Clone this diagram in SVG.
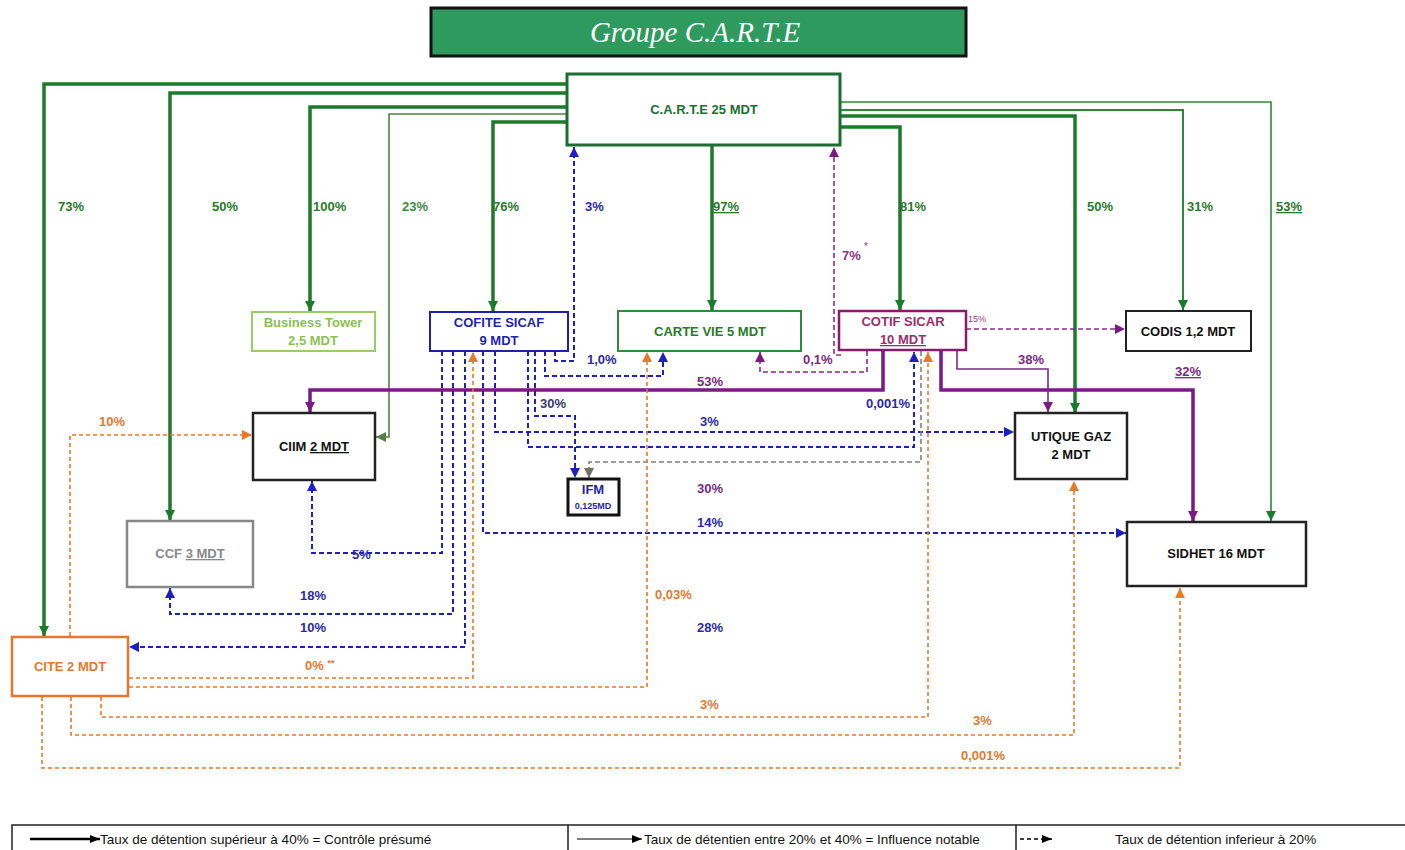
<svg xmlns="http://www.w3.org/2000/svg" width="1405" height="850" viewBox="0 0 1405 850">
<style>
text{font-family:"Liberation Sans",Arial,sans-serif}
.b{font-weight:bold}
.nt{font-size:13px;font-weight:bold;text-anchor:middle}
.lb{font-size:13px;font-weight:bold}
.u{text-decoration:underline}
.box{fill:#fff}
.g3{stroke:#1b7a2b;stroke-width:3.5;fill:none}
.g2{stroke:#2a8a35;stroke-width:2;fill:none}
.g1{stroke:#2a8a35;stroke-width:1.6;fill:none}
.ol{stroke:#557f42;stroke-width:1.6;fill:none}
.p3{stroke:#7a1a85;stroke-width:3.5;fill:none}
.p1{stroke:#7a2a85;stroke-width:1.6;fill:none}
.pd{stroke:#8a2a8a;stroke-width:1.6;stroke-dasharray:5,3;fill:none}
.bd{stroke:#1f1fc0;stroke-width:2;stroke-dasharray:5,3;fill:none}
.od{stroke:#e8782a;stroke-width:1.6;stroke-dasharray:4,3;fill:none}
.gd{stroke:#808080;stroke-width:1.6;stroke-dasharray:5,3;fill:none}
.cg{fill:#2a7a2a}.cb{fill:#2a2aa8}.cp{fill:#7a2a80}.co{fill:#e07a30}
.lg{font-size:13.5px;fill:#111}
</style>
<defs>
<marker id="ag" markerUnits="userSpaceOnUse" markerWidth="12" markerHeight="10" refX="10" refY="5" orient="auto"><path d="M0,0 L10,5 L0,10 z" fill="#1b7a2b"/></marker>
<marker id="ao" markerUnits="userSpaceOnUse" markerWidth="12" markerHeight="10" refX="10" refY="5" orient="auto"><path d="M0,0 L10,5 L0,10 z" fill="#557f42"/></marker>
<marker id="ap" markerUnits="userSpaceOnUse" markerWidth="12" markerHeight="10" refX="10" refY="5" orient="auto"><path d="M0,0 L10,5 L0,10 z" fill="#7a1a85"/></marker>
<marker id="ab" markerUnits="userSpaceOnUse" markerWidth="12" markerHeight="10" refX="10" refY="5" orient="auto"><path d="M0,0 L10,5 L0,10 z" fill="#1f1fc0"/></marker>
<marker id="aor" markerUnits="userSpaceOnUse" markerWidth="12" markerHeight="10" refX="10" refY="5" orient="auto"><path d="M0,0 L10,5 L0,10 z" fill="#e8782a"/></marker>
<marker id="agr" markerUnits="userSpaceOnUse" markerWidth="12" markerHeight="10" refX="10" refY="5" orient="auto"><path d="M0,0 L10,5 L0,10 z" fill="#707070"/></marker>
<marker id="ak" markerUnits="userSpaceOnUse" markerWidth="12" markerHeight="10" refX="10" refY="4" orient="auto"><path d="M0,0 L10,4 L0,8 z" fill="#000"/></marker>
</defs>
<rect width="1405" height="850" fill="#fff"/>
<g id="title">
<rect x="431" y="8" width="535" height="48" fill="#2e9a5e" stroke="#111" stroke-width="3"/>
<text x="695" y="42" style="font-family:'Liberation Serif',serif" font-style="italic" font-size="29" fill="#fff" text-anchor="middle">Groupe C.A.R.T.E</text>
</g>
<g id="connectors">
<path class="g3" marker-end="url(#ag)" d="M567,84 H44 V636"/>
<path class="g3" marker-end="url(#ag)" d="M567,93 H170 V520"/>
<path class="g3" marker-end="url(#ag)" d="M567,107 H310 V311"/>
<path class="g3" marker-end="url(#ag)" d="M567,122 H493 V311"/>
<path class="ol" marker-end="url(#ao)" d="M567,114 H389 V437 H376"/>
<path class="g3" marker-end="url(#ag)" d="M712,146 V310"/>
<path class="g3" marker-end="url(#ag)" d="M840,127 H900 V310"/>
<path class="g3" marker-end="url(#ag)" d="M840,116 H1075 V413"/>
<path class="g2" marker-end="url(#ag)" d="M840,110 H1183 V310"/>
<path class="g1" marker-end="url(#ag)" d="M840,102 H1271 V521"/>
<path class="p3" marker-end="url(#ap)" d="M883,351 V390 H310 V412"/>
<path class="p3" marker-end="url(#ap)" d="M941,351 V390 H1193 V521"/>
<path class="p1" marker-end="url(#ap)" d="M957,351 V369 H1048 V412"/>
<path class="pd" marker-end="url(#ap)" d="M966,329 H1125"/>
<path class="pd" marker-end="url(#ap)" d="M867,351 V372 H760 V352"/>
<path class="pd" marker-end="url(#ap)" d="M841,355 H834 V147"/>
<path class="bd" marker-end="url(#ab)" d="M555,351 V361 H574 V147"/>
<path class="bd" marker-end="url(#ab)" d="M545,351 V376 H663 V352"/>
<path class="bd" marker-end="url(#ab)" d="M442,351 V553 H312 V481"/>
<path class="bd" marker-end="url(#ab)" d="M453,351 V614 H170 V588"/>
<path class="bd" marker-end="url(#ab)" d="M465,351 V647 H129"/>
<path class="bd" marker-end="url(#ab)" d="M483,351 V533 H1126"/>
<path class="bd" marker-end="url(#ab)" d="M495,351 V432 H1014"/>
<path class="bd" marker-end="url(#ab)" d="M528,351 V447 H914 V352"/>
<path class="bd" marker-end="url(#ab)" d="M535,351 V416 H575 V478"/>
<path class="gd" marker-end="url(#agr)" d="M921,351 V462 H589 V478"/>
<path class="od" marker-end="url(#aor)" d="M70,636 V435 H252"/>
<path class="od" marker-end="url(#aor)" d="M129,678 H473 V352"/>
<path class="od" marker-end="url(#aor)" d="M129,687 H647 V352"/>
<path class="od" marker-end="url(#aor)" d="M101,697 V717 H928 V352"/>
<path class="od" marker-end="url(#aor)" d="M71,697 V735 H1074 V481"/>
<path class="od" marker-end="url(#aor)" d="M42,697 V768 H1180 V588"/>
</g>
<g id="labels">
<text class="lb cg" x="58" y="211">73%</text>
<text class="lb cg" x="212" y="211">50%</text>
<text class="lb cg" x="313" y="211">100%</text>
<text class="lb" x="402" y="211" fill="#3f8a3f">23%</text>
<text class="lb cg" x="493" y="211">76%</text>
<text class="lb cb" x="585" y="211">3%</text>
<text class="lb cg u" x="713" y="211">97%</text>
<text class="lb" x="842" y="260" fill="#8a3a7a">7%</text>
<text x="864" y="250" font-size="10" fill="#8a3a7a">*</text>
<text class="lb cg" x="900" y="211">81%</text>
<text class="lb cg" x="1087" y="211">50%</text>
<text class="lb cg" x="1187" y="211">31%</text>
<text class="lb cg u" x="1276" y="211">53%</text>
<text x="968" y="322" font-size="9" fill="#8a3a7a">15%</text>
<text class="lb cb" x="587" y="364">1,0%</text>
<text class="lb cp" x="803" y="364">0,1%</text>
<text class="lb cp" x="697" y="386">53%</text>
<text class="lb cp" x="1018" y="364">38%</text>
<text class="lb cp u" x="1175" y="376">32%</text>
<text class="lb co" x="99" y="426">10%</text>
<text class="lb" x="540" y="408" fill="#3a3a70">30%</text>
<text class="lb cb" x="866" y="408">0,001%</text>
<text class="lb cb" x="700" y="426">3%</text>
<text class="lb cp" x="697" y="493">30%</text>
<text class="lb cb" x="697" y="527">14%</text>
<text class="lb cb" x="352" y="559">5%</text>
<text class="lb cb" x="300" y="600">18%</text>
<text class="lb co" x="655" y="599">0,03%</text>
<text class="lb cb" x="300" y="632">10%</text>
<text class="lb cb" x="697" y="632">28%</text>
<text class="lb co" x="305" y="670">0% <tspan font-size="9" dy="-4">**</tspan></text>
<text class="lb co" x="700" y="709">3%</text>
<text class="lb co" x="973" y="725">3%</text>
<text class="lb co" x="961" y="760">0,001%</text>
</g>
<g id="n-carte"><rect class="box" x="567" y="74" width="273" height="71" stroke="#1b6e30" stroke-width="3"/><text class="nt" x="704" y="114" fill="#1b6e30">C.A.R.T.E 25 MDT</text></g>
<g id="n-business"><rect class="box" x="252" y="312" width="123" height="39" stroke="#9ccc65" stroke-width="2"/><text class="nt" x="313" y="327" fill="#8cc152">Business Tower</text><text class="nt" x="313" y="345" fill="#8cc152">2,5 MDT</text></g>
<g id="n-cofite"><rect class="box" x="430" y="312" width="138" height="39" stroke="#1f1fb0" stroke-width="2"/><text class="nt" x="499" y="327" fill="#1f1fb0">COFITE SICAF</text><text class="nt" x="499" y="345" fill="#1f1fb0">9 MDT</text></g>
<g id="n-cartevie"><rect class="box" x="618" y="311" width="183" height="40" stroke="#2e8b3a" stroke-width="2"/><text class="nt" x="710" y="336" fill="#2a7a2a">CARTE VIE 5 MDT</text></g>
<g id="n-cotif"><rect class="box" x="839" y="311" width="127" height="39" stroke="#8a1a6e" stroke-width="2.5"/><text class="nt" x="903" y="326" fill="#9b2f6b">COTIF SICAR</text><text class="nt u" x="903" y="344" fill="#9b2f6b">10 MDT</text></g>
<g id="n-codis"><rect class="box" x="1126" y="311" width="125" height="40" stroke="#222" stroke-width="2"/><text class="nt" x="1188" y="336" fill="#111">CODIS 1,2 MDT</text></g>
<g id="n-ciim"><rect class="box" x="253" y="413" width="122" height="67" stroke="#222" stroke-width="2.5"/><text class="nt" x="314" y="451" fill="#111">CIIM <tspan class="u">2 MDT</tspan></text></g>
<g id="n-ifm"><rect class="box" x="568" y="479" width="51" height="36" stroke="#111" stroke-width="3"/><text class="nt" x="593" y="494" fill="#1f1fb0">IFM</text><text x="593" y="509" font-size="9" font-weight="bold" text-anchor="middle" fill="#1f1fb0">0,125MD</text></g>
<g id="n-utique"><rect class="box" x="1015" y="413" width="112" height="66" stroke="#222" stroke-width="2.5"/><text class="nt" x="1071" y="441" fill="#111">UTIQUE GAZ</text><text class="nt" x="1071" y="459" fill="#111">2 MDT</text></g>
<g id="n-ccf"><rect class="box" x="127" y="521" width="126" height="66" stroke="#888" stroke-width="2.5"/><text class="nt" x="190" y="558" fill="#888">CCF <tspan class="u">3 MDT</tspan></text></g>
<g id="n-sidhet"><rect class="box" x="1127" y="522" width="179" height="64" stroke="#222" stroke-width="2.5"/><text class="nt" x="1216" y="558" fill="#111">SIDHET 16 MDT</text></g>
<g id="n-cite"><rect class="box" x="12" y="637" width="116" height="59" stroke="#e8762a" stroke-width="2.5"/><text class="nt" x="70" y="671" fill="#e07a30">CITE 2 MDT</text></g>
<g id="legend">
<rect x="12" y="825" width="1400" height="30" fill="#fff" stroke="#222" stroke-width="1.5"/>
<line x1="568" y1="825" x2="568" y2="850" stroke="#222" stroke-width="1.5"/>
<line x1="1016" y1="825" x2="1016" y2="850" stroke="#222" stroke-width="1.5"/>
<line x1="30" y1="839" x2="100" y2="839" stroke="#000" stroke-width="2.5" marker-end="url(#ak)"/>
<text class="lg" x="100" y="843.5">Taux de détention supérieur à 40% = Contrôle présumé</text>
<line x1="577" y1="839" x2="642" y2="839" stroke="#000" stroke-width="1.2" marker-end="url(#ak)"/>
<text class="lg" x="644" y="843.5">Taux de détentien entre 20% et 40% = Influence notable</text>
<line x1="1020" y1="839" x2="1052" y2="839" stroke="#000" stroke-width="1.5" stroke-dasharray="4,3" marker-end="url(#ak)"/>
<text class="lg" x="1115" y="843.5">Taux de détention inferieur à 20%</text>
</g>
</svg>
